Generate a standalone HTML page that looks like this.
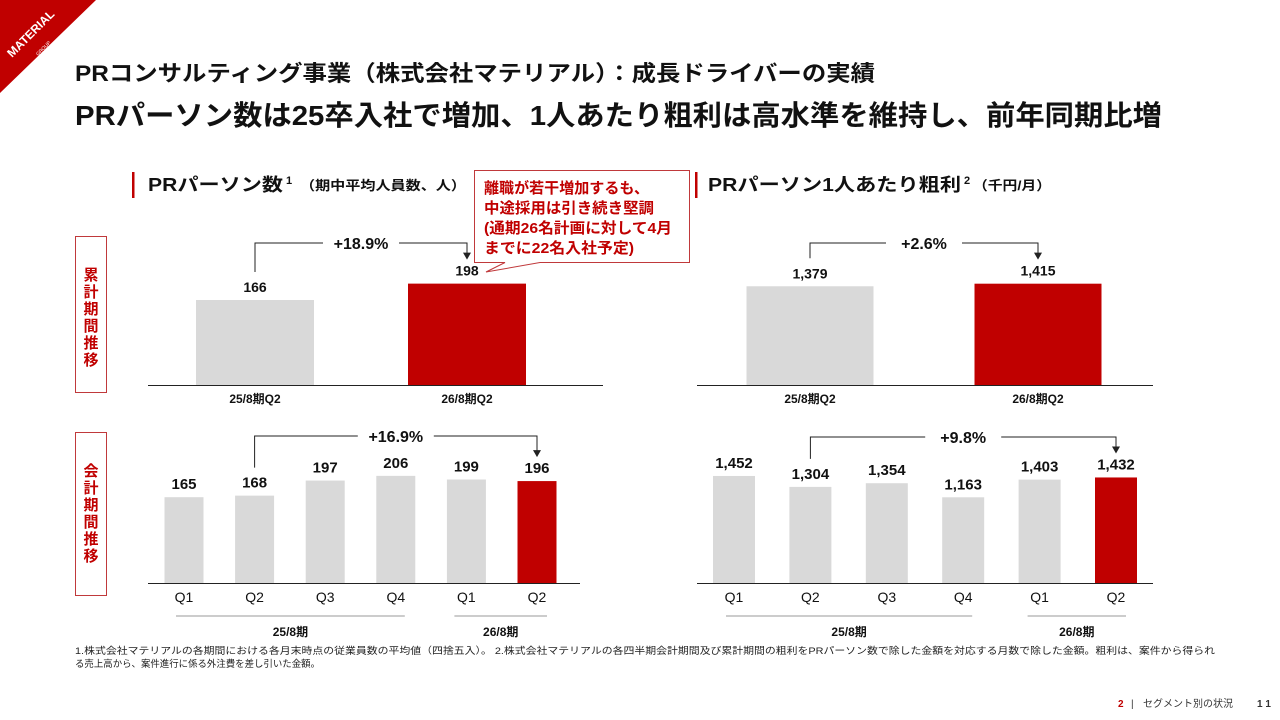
<!DOCTYPE html>
<html><head><meta charset="utf-8"><style>
body{margin:0;width:1280px;height:720px;background:#fff;overflow:hidden;font-family:"Liberation Sans","Noto Sans CJK JP",sans-serif;position:relative}
.a{position:absolute}
</style></head><body>
<svg class="a" style="left:0;top:0" width="1280" height="720">
<polygon points="0,0 96,0 0,93" fill="#c00000"/>
<text x="12" y="58" transform="rotate(-45 12 58)" fill="#fff" font-size="12" font-weight="bold" font-family="Liberation Sans,sans-serif">MATERIAL</text>
<text x="38" y="56" transform="rotate(-45 38 56)" fill="#fff" font-size="5" font-family="Liberation Sans,sans-serif">GROUP</text>
<text x="75" y="81" font-size="22" font-weight="bold" fill="#111" textLength="800" lengthAdjust="spacingAndGlyphs">PRコンサルティング事業（株式会社マテリアル）：成長ドライバーの実績</text>
<text x="75" y="125" font-size="28" font-weight="bold" fill="#111" textLength="1087" lengthAdjust="spacingAndGlyphs">PRパーソン数は25卒入社で増加、1人あたり粗利は高水準を維持し、前年同期比増</text>
<rect x="132" y="172" width="2.5" height="26" fill="#c00000"/>
<text x="148" y="191" font-size="18" font-weight="bold" fill="#111" textLength="135" lengthAdjust="spacingAndGlyphs">PRパーソン数</text>
<text x="286" y="184" font-size="11" font-weight="bold" fill="#111">1</text>
<text x="300" y="190" font-size="13" font-weight="bold" fill="#111" textLength="166" lengthAdjust="spacingAndGlyphs">（期中平均人員数、人）</text>
<rect x="695" y="172" width="2.5" height="26" fill="#c00000"/>
<text x="708" y="191" font-size="18" font-weight="bold" fill="#111" textLength="253" lengthAdjust="spacingAndGlyphs">PRパーソン1人あたり粗利</text>
<text x="964" y="184" font-size="11" font-weight="bold" fill="#111">2</text>
<text x="973" y="190" font-size="13" font-weight="bold" fill="#111" textLength="78" lengthAdjust="spacingAndGlyphs">（千円/月）</text>
<rect x="75.5" y="236.5" width="31" height="156" fill="#fff" stroke="#c0393b"/>
<text x="91" font-size="15" font-weight="bold" fill="#c00000" text-anchor="middle"><tspan x="91" y="280">累</tspan><tspan x="91" y="297">計</tspan><tspan x="91" y="314">期</tspan><tspan x="91" y="331">間</tspan><tspan x="91" y="348">推</tspan><tspan x="91" y="365">移</tspan></text>
<rect x="75.5" y="432.5" width="31" height="163" fill="#fff" stroke="#c0393b"/>
<text font-size="15" font-weight="bold" fill="#c00000" text-anchor="middle"><tspan x="91" y="476">会</tspan><tspan x="91" y="493">計</tspan><tspan x="91" y="510">期</tspan><tspan x="91" y="527">間</tspan><tspan x="91" y="544">推</tspan><tspan x="91" y="561">移</tspan></text>
<g id="charts"></g>
<path d="M474.5,170.5 H689.5 V262.5 H540 L486,272 L505,262.5 H474.5 Z" fill="#fff" stroke="#c0393b"/>
<text font-size="15" font-weight="bold" fill="#c00000"><tspan x="484" y="193" textLength="165" lengthAdjust="spacingAndGlyphs">離職が若干増加するも、</tspan><tspan x="484" y="213" textLength="170" lengthAdjust="spacingAndGlyphs">中途採用は引き続き堅調</tspan><tspan x="484" y="233" textLength="188" lengthAdjust="spacingAndGlyphs">(通期26名計画に対して4月</tspan><tspan x="484" y="253" textLength="150" lengthAdjust="spacingAndGlyphs">までに22名入社予定)</tspan></text>
<text x="75" y="654" font-size="9.5" fill="#222" textLength="1140" lengthAdjust="spacingAndGlyphs">1.株式会社マテリアルの各期間における各月末時点の従業員数の平均値（四捨五入）。 2.株式会社マテリアルの各四半期会計期間及び累計期間の粗利をPRパーソン数で除した金額を対応する月数で除した金額。粗利は、案件から得られ</text>
<text x="75" y="667" font-size="9.5" fill="#222" textLength="245" lengthAdjust="spacingAndGlyphs">る売上高から、案件進行に係る外注費を差し引いた金額。</text>
<text x="1118" y="707" font-size="10" font-weight="bold" fill="#c00000">2</text>
<text x="1131" y="707" font-size="10" fill="#333">|</text>
<text x="1143" y="707" font-size="10" fill="#333">セグメント別の状況</text>
<text x="1257" y="707" font-size="10" font-weight="bold" fill="#333">1 1</text>
</svg>
<script>
const topCats=["25/8期Q2","26/8期Q2"];
const topPersons=[166,198];
const topProfit=[1379,1415];
const qCats=["Q1","Q2","Q3","Q4","Q1","Q2"];
const qPersons=[165,168,197,206,199,196];
const qProfit=[1452,1304,1354,1163,1403,1432];
const topPct=["+18.9%","+2.6%"];
const qPct=["+16.9%","+9.8%"];
const groupLabels=["25/8期","26/8期"];
const NS="http://www.w3.org/2000/svg";
const g=document.getElementById('charts');
function el(t,a,txt){const e=document.createElementNS(NS,t);for(const k in a)e.setAttribute(k,a[k]);if(txt!==undefined)e.textContent=txt;g.appendChild(e);return e;}
function fmt(v){return v.toLocaleString('en-US');}
function chart(o){
  const y=v=>o.base-v*o.scale;
  const ax=el('line',{x1:o.x0,x2:o.x1,y1:o.base+0.5,y2:o.base+0.5,stroke:'#222','stroke-width':1});
  
  
  const cx=[];
  o.vals.forEach((v,i)=>{
    const c=o.c0+i*o.step;cx.push(c);
    const last=i===o.vals.length-1;
    const r=el('rect',{x:c-o.bw/2,y:y(v),width:o.bw,height:v*o.scale,fill:last?'#c00000':'#d9d9d9'});
    
    
    const t=el('text',{x:c,y:y(v)-8,'font-size':o.top?14:15,'font-weight':'bold','text-anchor':'middle',fill:'#111'},fmt(v));
    
    
    const l=el('text',{x:c,y:o.base+(o.top?18:19),'font-size':o.top?12:14,'font-weight':o.top?'bold':'normal','text-anchor':'middle',fill:'#111'},o.cats[i]);
    
    
  });
  const a=o.from,b=o.vals.length-1,ya=o.ay;
  const sy=y(o.vals[a])-28,ey=y(o.vals[b])-24;
  el('path',{d:`M${cx[a]},${sy} V${ya} H${cx[b]} V${ey-6}`,fill:'none',stroke:'#222','stroke-width':1});
  el('path',{d:`M${cx[b]-4},${ey-7} L${cx[b]+4},${ey-7} L${cx[b]},${ey} Z`,fill:'#222'});
  el('rect',{x:(cx[a]+cx[b])/2-38,y:ya-10,width:76,height:20,fill:'#fff'});
  const p=el('text',{x:(cx[a]+cx[b])/2,y:ya+6,'font-size':16,'font-weight':'bold','text-anchor':'middle',fill:'#111'},o.pct);
  
  
  if(!o.top){
    const gl=[[cx[0]-8,cx[3]+9],[cx[4]-12,cx[5]+10]];
    gl.forEach((r,i)=>{
      el('line',{x1:r[0],x2:r[1],y1:616,y2:616,stroke:'#999','stroke-width':1});
      const gt=el('text',{x:(r[0]+r[1])/2,y:636,'font-size':12,'font-weight':'bold','text-anchor':'middle',fill:'#111'},groupLabels[i]);
      
      
    });
  }
}
chart({name:'cum-persons',top:true,vals:topPersons,cats:topCats,x0:148,x1:603,base:385,scale:0.512,c0:255,step:212,bw:118,from:0,ay:243,pct:topPct[0]});
chart({name:'cum-profit',top:true,vals:topProfit,cats:topCats,x0:697,x1:1153,base:385,scale:0.0716,c0:810,step:228,bw:127,from:0,ay:243,pct:topPct[1]});
chart({name:'q-persons',top:false,vals:qPersons,cats:qCats,x0:148,x1:580,base:583,scale:0.52,c0:184,step:70.6,bw:39,from:1,ay:436,pct:qPct[0]});
chart({name:'q-profit',top:false,vals:qProfit,cats:qCats,x0:697,x1:1153,base:583,scale:0.0737,c0:734,step:76.4,bw:42,from:1,ay:437,pct:qPct[1]});
</script>
</body></html>
